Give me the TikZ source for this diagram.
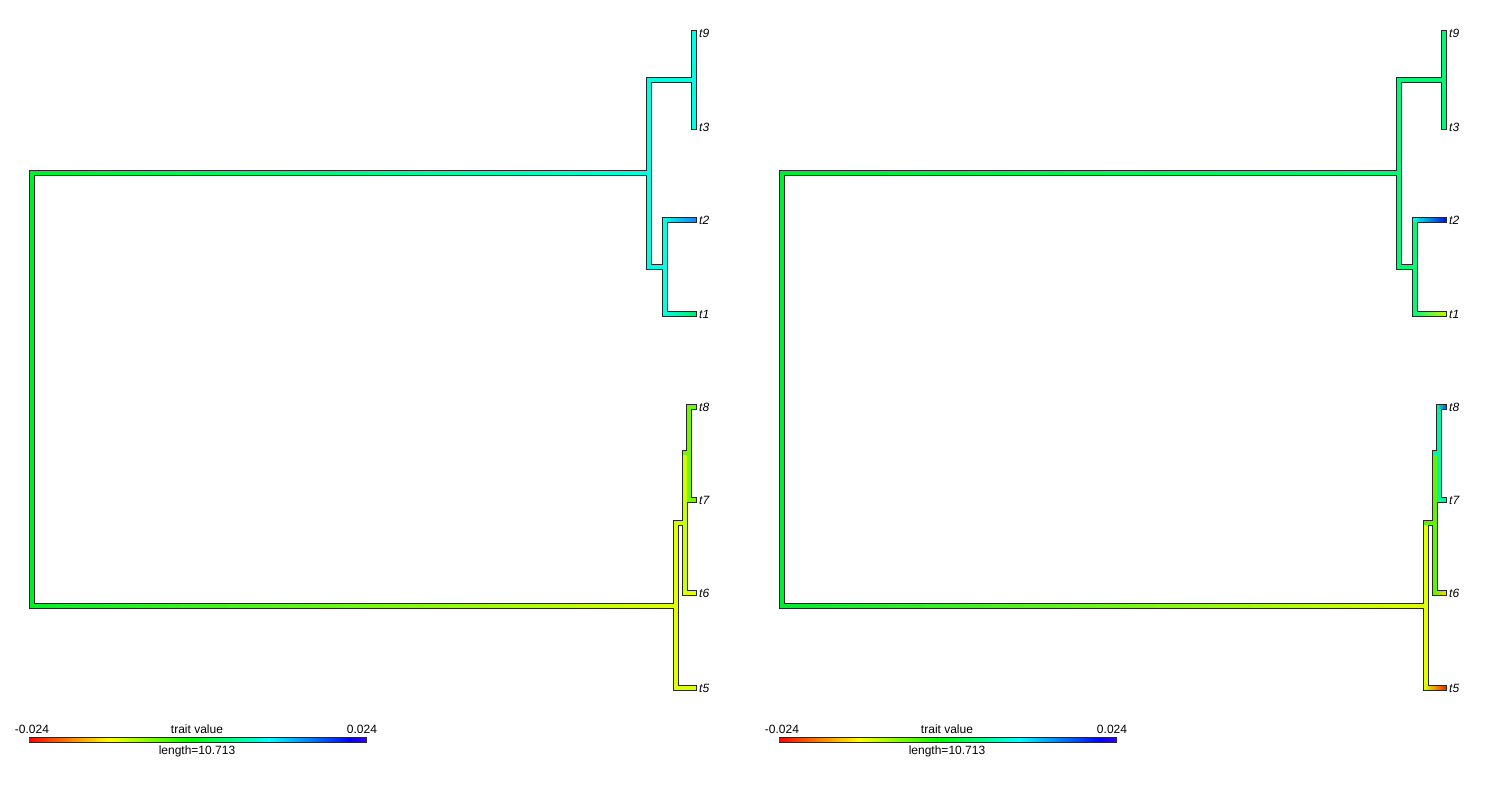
\documentclass[tikz,border=0pt]{standalone}
\usepackage{fontspec}
\setmainfont{Liberation Sans}
\definecolor{outl}{RGB}{40,40,40}
% left tree colours
\definecolor{Lroot}{RGB}{0,240,40}
\definecolor{Lcyan}{RGB}{0,255,225}
\definecolor{Lt2}{RGB}{20,130,255}
\definecolor{Lt1}{RGB}{0,235,110}
\definecolor{Lyel}{RGB}{225,255,0}
\definecolor{Lyg}{RGB}{205,255,0}
\definecolor{Llime}{RGB}{120,245,0}
% right tree colours
\definecolor{Rroot}{RGB}{0,235,50}
\definecolor{Rsg}{RGB}{0,250,120}
\definecolor{Rt2}{RGB}{0,20,220}
\definecolor{Rt1}{RGB}{200,245,0}
\definecolor{Ryel}{RGB}{225,255,0}
\definecolor{Rgr}{RGB}{100,240,0}
\definecolor{Rt6}{RGB}{255,205,0}
\definecolor{Rt5}{RGB}{240,40,0}
\definecolor{Rcg}{RGB}{0,245,160}
\definecolor{Rt8}{RGB}{0,90,255}
% colour bar
\definecolor{cbA}{RGB}{255,0,0}
\definecolor{cbB}{RGB}{255,255,0}
\definecolor{cbC}{RGB}{0,255,0}
\definecolor{cbD}{RGB}{0,255,255}
\definecolor{cbE}{RGB}{0,0,255}
\definecolor{cbF}{RGB}{51,0,255}
\tikzset{
  outline/.style={line width=5.5pt,draw=outl,line cap=rect},
  fillline/.style={line width=3.5pt,line cap=rect},
  tiplabel/.style={anchor=west,inner sep=0pt,font=\fontsize{12}{14}\selectfont\itshape},
  barlabel/.style={inner sep=0pt,font=\fontsize{12}{14}\selectfont},
}
% horizontal branch with a colour gradient
\newcommand\hbr[4]{\shade[left color=#3,right color=#4]
  ([xshift=-1.75pt,yshift=-1.75pt]#1) rectangle ([xshift=1.75pt,yshift=1.75pt]#2);}
% colour bar segment (no overhang)
\newcommand\cbs[4]{\shade[left color=#3,right color=#4]
  ([yshift=-1.8pt]#1) rectangle ([yshift=1.8pt]#2);}
\newcommand\treecoords[2]{%
 \begin{scope}[xshift=#2pt]
  \coordinate (#1ru) at (32,173);
  \coordinate (#1rd) at (32,606);
  \coordinate (#1U) at (649,173);
  \coordinate (#1Ut) at (649,80);
  \coordinate (#1Ub) at (649,267);
  \coordinate (#1A) at (694,80);
  \coordinate (#1B) at (665,267);
  \coordinate (#1Bt) at (665,220);
  \coordinate (#1Bb) at (665,314);
  \coordinate (#1D) at (676,606);
  \coordinate (#1Dt) at (676,523);
  \coordinate (#1Db) at (676,688);
  \coordinate (#1E) at (685,523);
  \coordinate (#1Et) at (685,453);
  \coordinate (#1Eb) at (685,593);
  \coordinate (#1F) at (689,453);
  \coordinate (#1Ft) at (689,407);
  \coordinate (#1Fb) at (689,500);
  \coordinate (#1t9) at (694,33);
  \coordinate (#1t3) at (694,127);
  \coordinate (#1t2) at (694,220);
  \coordinate (#1t1) at (694,314);
  \coordinate (#1t8) at (694,407);
  \coordinate (#1t7) at (694,500);
  \coordinate (#1t6) at (694,593);
  \coordinate (#1t5) at (694,688);
  \foreach \t in {9,3,2,1,8,7,6,5}
    \node[tiplabel] (#1l\t) at ([xshift=5pt]#1t\t) {t\t};
  % colour bar
  \coordinate (#1cb0) at (29,740);
  \coordinate (#1cb1) at (109.2,740);
  \coordinate (#1cb2) at (189.4,740);
  \coordinate (#1cb3) at (269.6,740);
  \coordinate (#1cb4) at (349.8,740);
  \coordinate (#1cb5) at (366,740);
  \node[barlabel] (#1min) at (32,729) {-0.024};
  \node[barlabel] (#1tv) at (197,729) {trait value};
  \node[barlabel] (#1max) at (362,729) {0.024};
  \node[barlabel] (#1len) at (197,751) {length=10.713};
 \end{scope}}
\newcommand\treeoutline[1]{%
  \draw[outline] (#1ru) -- (#1rd);
  \draw[outline] (#1ru) -- (#1U);
  \draw[outline] (#1rd) -- (#1D);
  \draw[outline] (#1Ut) -- (#1Ub);
  \draw[outline] (#1Ut) -- (#1A);
  \draw[outline] (#1t9) -- (#1t3);
  \draw[outline] (#1Ub) -- (#1B);
  \draw[outline] (#1Bt) -- (#1Bb);
  \draw[outline] (#1Bt) -- (#1t2);
  \draw[outline] (#1Bb) -- (#1t1);
  \draw[outline] (#1Dt) -- (#1Db);
  \draw[outline] (#1Db) -- (#1t5);
  \draw[outline] (#1Dt) -- (#1E);
  \draw[outline] (#1Et) -- (#1Eb);
  \draw[outline] (#1Eb) -- (#1t6);
  \draw[outline] (#1Et) -- (#1F);
  \draw[outline] (#1Ft) -- (#1Fb);
  \draw[outline] (#1Ft) -- (#1t8);
  \draw[outline] (#1Fb) -- (#1t7);}
\newcommand\colorbar[1]{%
  \draw[outl,line width=0.8pt] ([yshift=-2.2pt]#1cb0) rectangle ([yshift=2.2pt]#1cb5);
  \cbs{#1cb0}{#1cb1}{cbA}{cbB}
  \cbs{#1cb1}{#1cb2}{cbB}{cbC}
  \cbs{#1cb2}{#1cb3}{cbC}{cbD}
  \cbs{#1cb3}{#1cb4}{cbD}{cbE}
  \cbs{#1cb4}{#1cb5}{cbE}{cbF}}
\begin{document}
\begin{tikzpicture}[x=1pt,y=-1pt]
\useasboundingbox[fill=white] (0,0) rectangle (1500,800);
\treecoords{L}{0}
\treecoords{R}{750}
\treeoutline{L}
\treeoutline{R}
% ---- left tree colours
\draw[fillline,Lroot] (Lru) -- (Lrd);
\hbr{Lru}{LU}{Lroot}{Lcyan}
\hbr{Lrd}{LD}{Lroot}{Lyel}
\draw[fillline,Lcyan] (LUt) -- (LUb);
\draw[fillline,Lcyan] (LUt) -- (LA);
\draw[fillline,Lcyan] (Lt9) -- (Lt3);
\draw[fillline,Lcyan] (LUb) -- (LB);
\draw[fillline,Lcyan] (LBt) -- (LBb);
\hbr{LBt}{Lt2}{Lcyan}{Lt2}
\hbr{LBb}{Lt1}{Lcyan}{Lt1}
\draw[fillline,Lyel] (LDt) -- (LDb);
\draw[fillline,Lyel] (LDb) -- (Lt5);
\draw[fillline,Lyg] (LDt) -- (LE);
\draw[fillline,Lyg] (LEt) -- (LEb);
\draw[fillline,Lyel] (LEb) -- (Lt6);
\draw[fillline,Llime] (LEt) -- (LF);
\draw[fillline,Llime] (LFt) -- (LFb);
\draw[fillline,Llime] (LFt) -- (Lt8);
\draw[fillline,Llime] (LFb) -- (Lt7);
% ---- right tree colours
\draw[fillline,Rroot] (Rru) -- (Rrd);
\hbr{Rru}{RU}{Rroot}{Rsg}
\hbr{Rrd}{RD}{Rroot}{Ryel}
\draw[fillline,Rsg] (RUt) -- (RUb);
\draw[fillline,Rsg] (RUt) -- (RA);
\draw[fillline,Rsg] (Rt9) -- (Rt3);
\draw[fillline,Rsg] (RUb) -- (RB);
\draw[fillline,Rsg] (RBt) -- (RBb);
\hbr{RBt}{Rt2}{Lcyan}{Rt2}
\hbr{RBb}{Rt1}{Rsg}{Rt1}
\draw[fillline,Ryel] (RDt) -- (RDb);
\hbr{RDb}{Rt5}{Ryel}{Rt5}
\draw[fillline,Rgr] (RDt) -- (RE);
\draw[fillline,Rgr] (REt) -- (REb);
\hbr{REb}{Rt6}{Rgr}{Rt6}
\draw[fillline,Rcg] (REt) -- (RF);
\draw[fillline,Rcg] (RFt) -- (RFb);
\hbr{RFt}{Rt8}{Rcg}{Rt8}
\draw[fillline,Rcg] (RFb) -- (Rt7);
% ---- colour bars
\colorbar{L}
\colorbar{R}
\end{tikzpicture}
\end{document}
